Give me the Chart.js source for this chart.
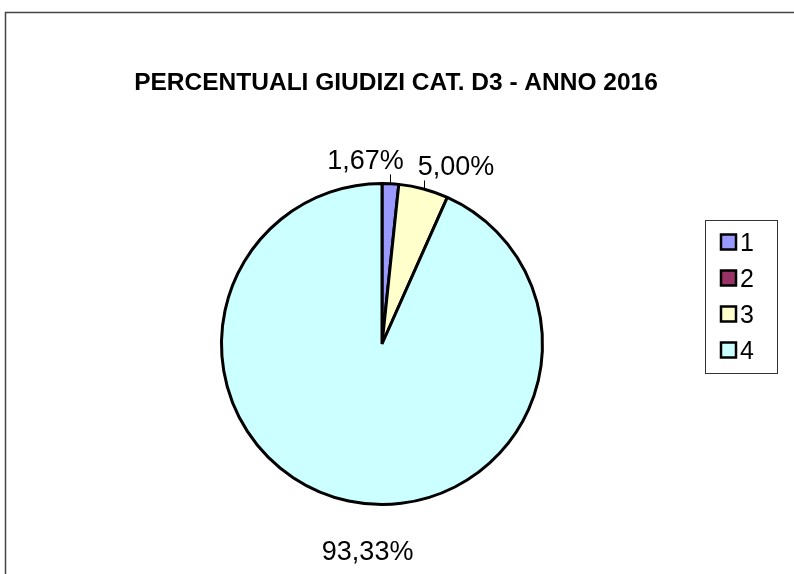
<!DOCTYPE html>
<html>
<head>
<meta charset="utf-8">
<title>Percentuali giudizi cat. D3 - anno 2016</title>
<script src="https://cdn.jsdelivr.net/npm/chart.js@4/dist/chart.umd.min.js"></script>
<style>
  html, body { margin: 0; padding: 0; background: #fff; }
  #wrap { width: 794px; height: 574px; }
</style>
</head>
<body>
<div id="wrap"><canvas id="canvas-pie-chart" width="794" height="574"></canvas></div>
<script>
// data
const chartTitle = 'PERCENTUALI GIUDIZI CAT. D3 - ANNO 2016';
const categories = ['1', '2', '3', '4'];
const percentages = [1.67, 0, 5.00, 93.33];
const sliceColors = ['#9999FF', '#993366', '#FFFFCC', '#CCFFFF'];

const FONT = '"Liberation Sans", Arial, sans-serif';

function formatPct(v) {
  return v.toFixed(2).replace('.', ',') + '%';
}

// frame, title, slice labels and the boxed legend
const decorations = {
  id: 'decorations',
  afterDraw(chart) {
    const c = chart.ctx;
    c.save();

    // outer frame (only left and top edges are inside the picture)
    c.strokeStyle = '#444';
    c.lineWidth = 1.5;
    c.beginPath();
    c.moveTo(5.5, 600);
    c.lineTo(5.5, 12.5);
    c.lineTo(800, 12.5);
    c.stroke();

    // title
    c.fillStyle = '#000';
    c.font = 'bold 24.5px ' + FONT;
    c.textAlign = 'center';
    c.textBaseline = 'alphabetic';
    c.fillText(chartTitle, 396, 90);

    // slice labels
    const fs = 27;
    const capH = fs * 0.716;
    c.font = fs + 'px ' + FONT;
    const meta = chart.getDatasetMeta(0);
    const labels = [];
    meta.data.forEach((arc, i) => {
      const v = percentages[i];
      if (!v) return;
      const p = arc.getProps(['x', 'y', 'startAngle', 'endAngle', 'outerRadius'], true);
      const mid = (p.startAngle + p.endAngle) / 2;
      const R = p.outerRadius;
      const text = formatPct(v);
      labels.push({
        i, text,
        w: c.measureText(text).width,
        ax: p.x + Math.cos(mid) * R,
        ay: p.y + Math.sin(mid) * R,
        lx: p.x + Math.cos(mid) * (R + 24),
        ly: p.y + Math.sin(mid) * (R + 24),
        moved: false
      });
    });
    // push apart labels that overlap
    for (let k = 1; k < labels.length; k++) {
      const a = labels[k - 1], b = labels[k];
      const overlapX = (a.lx + a.w / 2) - (b.lx - b.w / 2) + 14;
      if (overlapX > 0 && Math.abs(a.ly - b.ly) < capH + 4) {
        a.lx -= overlapX / 2; b.lx += overlapX / 2;
        a.moved = b.moved = true;
      }
    }
    // the big slice label sits a bit lower, as in the reference
    const biggest = percentages.indexOf(Math.max(...percentages));
    labels.forEach(l => {
      if (l.i === biggest) { l.lx += 24; l.ly += 26; }
    });

    c.strokeStyle = '#000';
    c.lineWidth = 1;
    labels.forEach(l => {
      if (l.moved) {
        c.beginPath();
        c.moveTo(Math.round(l.ax) + 0.5, l.ay);
        c.lineTo(Math.round(l.ax) + 0.5, l.ly + capH / 2 + 5);
        c.stroke();
      }
      c.fillStyle = '#000';
      c.textAlign = 'center';
      c.fillText(l.text, l.lx, l.ly + capH / 2);
    });

    // legend
    c.strokeStyle = '#333';
    c.lineWidth = 1;
    c.strokeRect(705.5, 220.5, 72, 153);
    c.font = '25px ' + FONT;
    c.textAlign = 'left';
    categories.forEach((cat, i) => {
      const cy = 242 + i * 36;
      c.fillStyle = sliceColors[i];
      c.fillRect(721, cy - 7.5, 15, 15);
      c.strokeStyle = '#000';
      c.lineWidth = 2.5;
      c.strokeRect(721, cy - 7.5, 15, 15);
      c.fillStyle = '#000';
      c.fillText(cat, 740, cy + 9);
    });

    c.restore();
  }
};

const ctx = document.getElementById('canvas-pie-chart');
// eslint-disable-next-line
const myPieChart = new Chart(ctx, {
  type: 'pie',
  data: {
    labels: categories,
    datasets: [{
      data: percentages,
      backgroundColor: sliceColors,
      borderColor: '#000',
      borderWidth: 3,
    }],
  },
  options: {
    responsive: false,
    animation: false,
    layout: { padding: { left: 220, right: 250, top: 180, bottom: 66 } },
    plugins: {
      legend: { display: false },
      tooltip: { enabled: false },
      title: { display: false },
    },
  },
  plugins: [decorations],
});
</script>
</body>
</html>
